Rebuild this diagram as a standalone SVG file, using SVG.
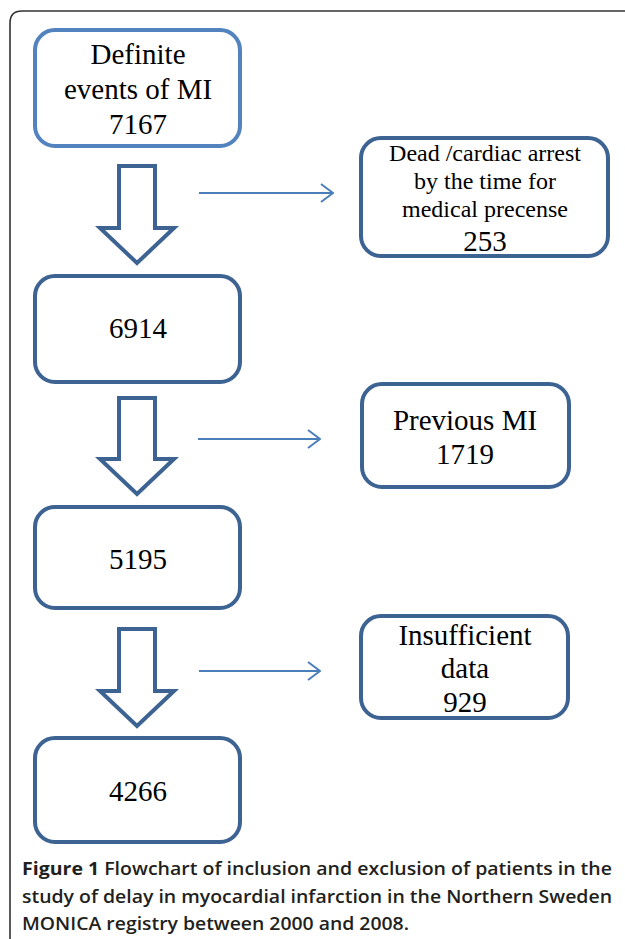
<svg xmlns="http://www.w3.org/2000/svg" width="625" height="939" viewBox="0 0 625 939">
<defs>
<style>
.frame{fill:none;stroke:#333;stroke-width:1.6}
.box{fill:#fff;stroke:#3D6392;stroke-width:4}
.box1{fill:#fff;stroke:#5283BE;stroke-width:4}
.blk{fill:#fff;stroke:#3D6392;stroke-width:4;stroke-linejoin:miter}
.conn{fill:none;stroke:#4A7EBB;stroke-width:2}
.t{font-family:"Liberation Serif","Times New Roman",serif;font-size:29px;fill:#000;text-anchor:middle}
.ts{font-family:"Liberation Serif","Times New Roman",serif;font-size:24px;fill:#000;text-anchor:middle}
.cap{font-family:"Open Sans","Noto Sans",sans-serif;font-size:18px;fill:#231f20;font-weight:600}
</style>
<marker id="chev" viewBox="0 0 14 20" refX="13" refY="10" markerWidth="14" markerHeight="20" markerUnits="userSpaceOnUse" orient="auto">
<path d="M1,1 L13,10 L1,19" fill="none" stroke="#4A7EBB" stroke-width="2"/>
</marker>
</defs>
<rect width="625" height="939" fill="#fff"/>
<path class="frame" d="M10,939 L10,23 Q10,11 22,11 L625,11"/>

<g id="n1">
<rect class="box1" x="35" y="30" width="205" height="116" rx="20"/>
<text class="t" x="138" y="64">Definite</text>
<text class="t" x="138" y="99">events of MI</text>
<text class="t" x="138" y="134">7167</text>
</g>
<g id="n2">
<rect class="box" x="361" y="138" width="247" height="118" rx="20"/>
<text class="ts" x="485" y="161">Dead /cardiac arrest</text>
<text class="ts" x="485" y="189">by the time for</text>
<text class="ts" x="485" y="217">medical precense</text>
<text class="t" x="485" y="251">253</text>
</g>
<g id="n3">
<rect class="box" x="35" y="276" width="205" height="106" rx="20"/>
<text class="t" x="138" y="338">6914</text>
</g>
<g id="n4">
<rect class="box" x="362" y="384" width="207" height="103" rx="20"/>
<text class="t" x="465" y="430">Previous MI</text>
<text class="t" x="465" y="464">1719</text>
</g>
<g id="n5">
<rect class="box" x="35" y="507" width="205" height="101" rx="20"/>
<text class="t" x="138" y="569">5195</text>
</g>
<g id="n6">
<rect class="box" x="361" y="616" width="207" height="102" rx="20"/>
<text class="t" x="465" y="645">Insufficient</text>
<text class="t" x="465" y="678">data</text>
<text class="t" x="465" y="712">929</text>
</g>
<g id="n7">
<rect class="box" x="35" y="738" width="205" height="104" rx="20"/>
<text class="t" x="138" y="801">4266</text>
</g>

<g id="connectors">
<path class="blk" d="M119,166 L155,166 L155,228 L174,228 L137,263 L100,228 L119,228 Z"/>
<path class="blk" d="M119,398 L155,398 L155,459 L174,459 L137,494 L100,459 L119,459 Z"/>
<path class="blk" d="M119,629 L155,629 L155,691 L174,691 L137,726 L100,691 L119,691 Z"/>
<line class="conn" x1="199" y1="193" x2="333" y2="193" marker-end="url(#chev)"/>
<line class="conn" x1="198" y1="439" x2="320" y2="439" marker-end="url(#chev)"/>
<line class="conn" x1="199" y1="671" x2="320" y2="671" marker-end="url(#chev)"/>
</g>

<g id="caption">
<text class="cap" x="22" y="875" textLength="590" lengthAdjust="spacingAndGlyphs"><tspan font-weight="700">Figure 1</tspan> Flowchart of inclusion and exclusion of patients in the</text>
<text class="cap" x="22" y="903" textLength="590" lengthAdjust="spacingAndGlyphs">study of delay in myocardial infarction in the Northern Sweden</text>
<text class="cap" x="22" y="930" textLength="387" lengthAdjust="spacingAndGlyphs">MONICA registry between 2000 and 2008.</text>
</g>
</svg>
